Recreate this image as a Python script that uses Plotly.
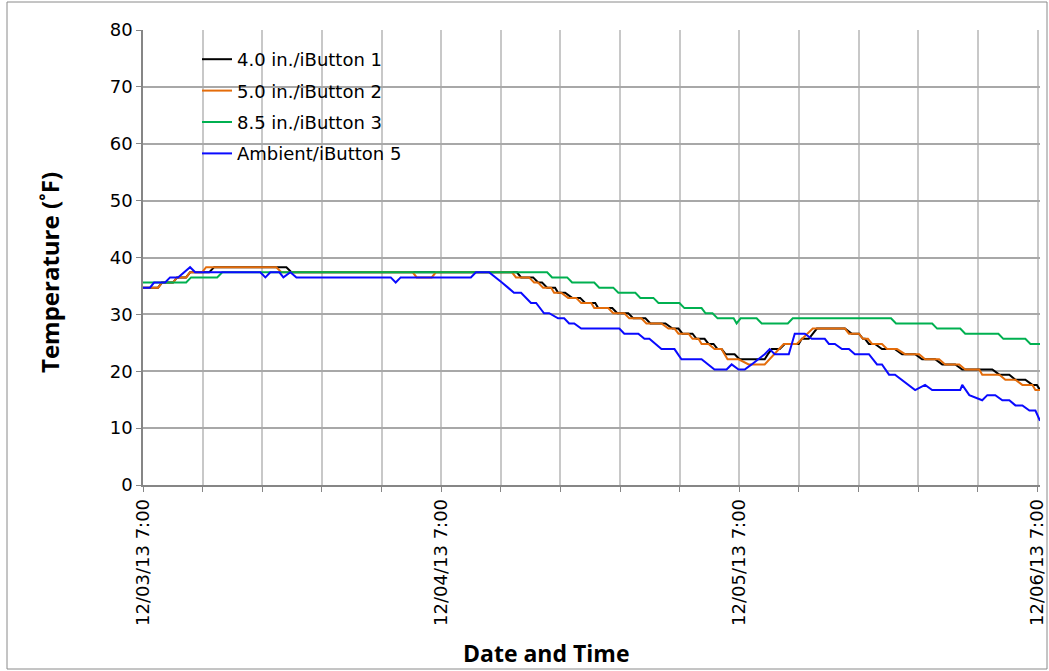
import plotly.graph_objects as go

# Hours since 12/03/13 7:00 and temperatures (deg F)
t_b1 = [0, 1.21, 1.53, 2.42, 2.74, 3.47, 3.79, 5.33, 5.73, 11.54, 11.95, 30.10, 30.43, 31.40, 31.80, 32.12,
        32.53, 33.17, 33.41, 33.98, 34.54, 35.19, 35.59, 36.40, 36.64, 37.77, 38.18, 39.06, 39.47, 40.44,
        40.84, 42.05, 42.62, 43.10, 43.42, 44.23, 44.55, 45.20, 45.52, 45.92, 46.25, 46.57, 46.89, 47.62,
        48.02, 50.04, 50.30, 50.61, 51.25, 51.65, 52.78, 53.03, 53.59, 53.91, 54.24, 56.50, 57.06, 57.63,
        57.95, 58.11, 58.43, 58.92, 59.48, 60.53, 61.10, 62.15, 62.71, 63.76, 64.33, 65.38, 65.94, 68.36,
        68.93, 69.73, 70.22, 71.02, 71.59, 71.95, 72.20]
v_b1 = [34.7, 34.7, 35.6, 35.6, 36.5, 36.5, 37.4, 37.4, 38.3, 38.3, 37.4, 37.4, 36.5, 36.5, 35.6, 35.6,
        34.7, 34.7, 33.8, 33.8, 32.9, 32.9, 32.0, 32.0, 31.1, 31.1, 30.2, 30.2, 29.3, 29.3,
        28.4, 28.4, 27.5, 27.5, 26.6, 26.6, 25.7, 25.7, 24.8, 24.8, 23.9, 23.9, 23.0, 23.0,
        22.1, 22.1, 23.0, 23.9, 23.9, 24.8, 24.8, 25.7, 25.7, 26.6, 27.5, 27.5, 26.6, 26.6,
        25.7, 25.7, 24.8, 24.8, 23.9, 23.9, 23.0, 23.0, 22.1, 22.1, 21.2, 21.2, 20.3, 20.3,
        19.4, 19.4, 18.5, 18.5, 17.6, 17.6, 16.7]

t_b2 = [0, 1.21, 1.53, 2.42, 2.74, 3.47, 3.79, 4.76, 5.08, 10.73, 11.14, 21.71, 22.03, 23.24, 23.57, 29.70,
        30.02, 31.07, 31.48, 31.80, 32.20, 32.85, 33.09, 33.66, 34.22, 34.87, 35.27, 36.08, 36.32, 37.45,
        37.85, 38.74, 39.14, 40.11, 40.52, 41.73, 42.29, 42.78, 43.10, 43.91, 44.23, 44.71, 44.96, 45.52,
        46.00, 46.57, 46.81, 47.05, 47.94, 48.75, 50.04, 50.44, 50.77, 51.25, 51.57, 52.62, 53.03, 53.43,
        53.91, 56.50, 56.82, 57.63, 57.95, 58.35, 58.68, 59.48, 59.89, 60.69, 61.34, 62.47, 62.95, 64.08,
        64.57, 65.70, 66.18, 67.31, 67.55, 68.93, 69.41, 70.22, 70.78, 71.59, 71.83, 72.20]
v_b2 = [34.7, 34.7, 35.6, 35.6, 36.5, 36.5, 37.4, 37.4, 38.3, 38.3, 37.4, 37.4, 36.5, 36.5, 37.4, 37.4,
        36.5, 36.5, 35.6, 35.6, 34.7, 34.7, 33.8, 33.8, 32.9, 32.9, 32.0, 32.0, 31.1, 31.1,
        30.2, 30.2, 29.3, 29.3, 28.4, 28.4, 27.5, 27.5, 26.6, 26.6, 25.7, 25.7, 24.8, 24.8,
        23.9, 23.9, 23.0, 22.1, 22.1, 21.2, 21.2, 22.1, 23.0, 23.9, 24.8, 24.8, 25.7, 26.6,
        27.5, 27.5, 26.6, 26.6, 25.7, 25.7, 24.8, 24.8, 23.9, 23.9, 23.0, 23.0, 22.1, 22.1,
        21.2, 21.2, 20.3, 20.3, 19.4, 19.4, 18.5, 18.5, 17.6, 17.6, 16.7, 16.7]

t_b3 = [0, 3.47, 3.87, 5.97, 6.38, 32.53, 32.93, 34.14, 34.54, 36.32, 36.72, 37.85, 38.26, 39.63, 40.03,
        41.08, 41.49, 43.18, 43.58, 44.96, 45.28, 45.84, 46.25, 47.54, 47.78, 48.10, 49.39, 49.80, 51.90,
        52.30, 60.21, 60.61, 63.52, 63.92, 65.78, 66.18, 68.85, 69.25, 71.02, 71.43, 72.20]
v_b3 = [35.6, 35.6, 36.5, 36.5, 37.4, 37.4, 36.5, 36.5, 35.6, 35.6, 34.7, 34.7, 33.8, 33.8, 32.9,
        32.9, 32.0, 32.0, 31.1, 31.1, 30.2, 30.2, 29.3, 29.3, 28.4, 29.3, 29.3, 28.4, 28.4,
        29.3, 29.3, 28.4, 28.4, 27.5, 27.5, 26.6, 26.6, 25.7, 25.7, 24.8, 24.8]

t_b5 = [0, 0.56, 0.89, 1.78, 2.18, 2.82, 3.79, 4.20, 9.44, 9.85, 10.25, 10.98, 11.30, 11.86, 12.35, 19.94,
        20.34, 20.74, 26.39, 26.80, 27.85, 28.41, 28.89, 29.38, 29.86, 30.43, 30.83, 31.23, 31.64, 32.28,
        32.69, 33.41, 33.90, 34.30, 34.71, 35.27, 38.34, 38.74, 39.87, 40.36, 40.76, 41.73, 42.78, 43.34,
        44.96, 46.00, 46.97, 47.38, 47.94, 48.43, 48.99, 49.56, 50.04, 50.44, 50.85, 51.98, 52.46, 53.27,
        53.83, 54.88, 55.21, 55.69, 56.26, 56.82, 57.30, 58.43, 59.08, 59.48, 60.05, 60.53, 61.10, 62.15,
        62.95, 63.52, 65.78, 65.94, 66.51, 67.55, 67.96, 68.60, 69.17, 69.73, 70.22, 70.78, 71.35, 71.83,
        72.20]
v_b5 = [34.7, 34.7, 35.6, 35.6, 36.5, 36.5, 38.3, 37.4, 37.4, 36.5, 37.4, 37.4, 36.5, 37.4, 36.5, 36.5,
        35.6, 36.5, 36.5, 37.4, 37.4, 36.5, 35.6, 34.7, 33.8, 33.8, 32.9, 32.0, 32.0, 30.2,
        30.2, 29.3, 29.3, 28.4, 28.4, 27.5, 27.5, 26.6, 26.6, 25.7, 25.7, 23.9, 23.9, 22.1,
        22.1, 20.3, 20.3, 21.2, 20.3, 20.3, 21.2, 22.1, 23.0, 23.9, 23.0, 23.0, 26.6, 26.6,
        25.7, 25.7, 24.8, 24.8, 23.9, 23.9, 23.0, 23.0, 21.2, 21.2, 19.4, 19.4, 18.5, 16.7,
        17.6, 16.7, 16.7, 17.6, 15.8, 14.9, 15.8, 15.8, 14.9, 14.9, 14.0, 14.0, 13.1, 13.1,
        11.3]

series_names = ["4.0 in./iButton 1", "5.0 in./iButton 2", "8.5 in./iButton 3", "Ambient/iButton 5"]
series_colors = ["#000000", "#E46C0A", "#00B050", "#0A0AFF"]
tick_hours = [0, 24, 48, 72]
tick_labels = ["12/03/13 7:00", "12/04/13 7:00", "12/05/13 7:00", "12/06/13 7:00"]

fig = go.Figure()
for i, (t, v) in enumerate([(t_b1, v_b1), (t_b2, v_b2), (t_b3, v_b3), (t_b5, v_b5)]):
    fig.add_trace(go.Scatter(x=t, y=v, mode="lines", name=series_names[i],
                             legendgroup=str(i),
                             line=dict(color=series_colors[i], width=2)))

L, R, T, B = 143, 9, 30, 186
W, H = 1049, 671
pw, ph = W - L - R, H - T - B

def px(xp):
    return (xp - L) / pw

def py(yp):
    return (H - B - yp) / ph

fig.update_layout(
    width=W, height=H,
    margin=dict(l=L, r=R, t=T, b=B, autoexpand=False),
    paper_bgcolor="white", plot_bgcolor="white",
    font=dict(family="DejaVu Sans", color="#000000"),
    showlegend=True,
    legend=dict(x=px(197), y=py(41), xanchor="left", yanchor="top",
                bgcolor="rgba(0,0,0,0)", font=dict(size=18, family="DejaVu Sans", color="#000000"),
                tracegroupgap=5, itemwidth=30),
    shapes=[
        dict(type="rect", xref="paper", yref="paper", x0=px(195), x1=px(457), y0=py(170), y1=py(42),
             fillcolor="white", line=dict(width=0), layer="below"),
        dict(type="rect", xref="paper", yref="paper", x0=px(7), x1=px(1047), y0=py(669), y1=py(2),
             fillcolor="rgba(0,0,0,0)", line=dict(color="#8a8a8a", width=1)),
    ],
    annotations=[
        dict(text="<b>Temperature (˚F)</b>", xref="paper", yref="paper", x=px(49), y=py(273),
             xanchor="center", yanchor="middle",
             textangle=-90, showarrow=False, font=dict(family="Open Sans", size=24, color="#000000")),
        dict(text="<b>Date and Time</b>", xref="paper", yref="paper", x=px(546), y=py(653),
             xanchor="center", yanchor="middle",
             showarrow=False, font=dict(family="Open Sans", size=23, color="#000000")),
    ],
)

fig.update_xaxes(
    range=[0, 72.2], tickvals=tick_hours, ticktext=tick_labels, tickangle=-90,
    tickfont=dict(size=18, family="DejaVu Sans", color="#000000"),
    showgrid=True, gridcolor="#c8c8c8", gridwidth=1.5,
    showline=True, linecolor="#868686", linewidth=1.5,
    ticks="outside", ticklen=5, tickcolor="#868686",
    minor=dict(dtick=4.8, tick0=0, showgrid=True, gridcolor="#c8c8c8", gridwidth=1.5,
               ticks="outside", ticklen=5, tickcolor="#868686"),
    zeroline=False, automargin=False,
)
fig.update_yaxes(
    range=[0, 80], dtick=10, tick0=0,
    tickfont=dict(size=18, family="DejaVu Sans", color="#000000"),
    showgrid=True, gridcolor="#a8a8a8", gridwidth=1.5,
    showline=True, linecolor="#868686", linewidth=1.5,
    ticks="outside", ticklen=5, tickcolor="#868686",
    zeroline=False, automargin=False,
)

fig.write_html("out.html", config={"displayModeBar": False},
               post_script="document.body.style.margin='0';document.body.style.overflow='hidden';")
